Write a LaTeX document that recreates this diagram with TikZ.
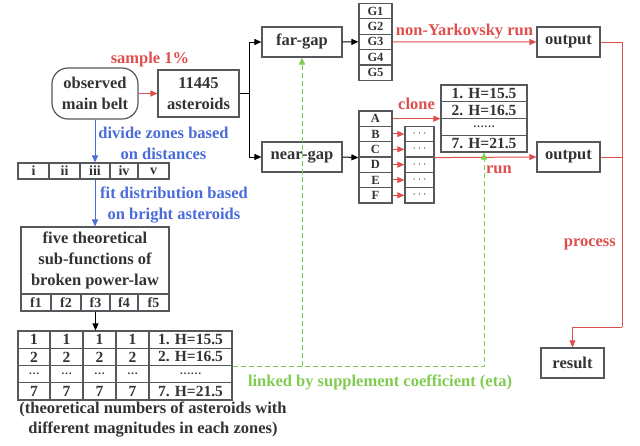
\documentclass[tikz,border=0pt]{standalone}
\usepackage{fontspec}
\setmainfont{Liberation Serif}
\usepackage{tikz}
\usetikzlibrary{arrows.meta}
\usetikzlibrary{calc}
\definecolor{txtgray}{RGB}{51,51,51}
\definecolor{boxgray}{RGB}{85,88,92}
\definecolor{sred}{RGB}{222,80,78}
\definecolor{sblue}{RGB}{74,108,218}
\definecolor{sgreen}{RGB}{128,204,80}
\newcommand{\bigfont}{\fontsize{16.5}{21}\selectfont\bfseries}
\newcommand{\tabfont}{\fontsize{15.5}{16}\selectfont\bfseries}
\newcommand{\midfont}{\fontsize{14}{16}\selectfont\bfseries}
\newcommand{\smallfont}{\fontsize{12.5}{14}\selectfont\bfseries}
\newcommand{\tdots}{{\fontsize{11}{11}\selectfont\ldots}}
\newcommand{\drawarrow}[1]{\draw[#1, line width=1pt, -{Triangle[length=7pt,width=6pt]}]}

\begin{document}
\begin{tikzpicture}[x=1pt, y=-1pt,
    box/.style={draw=boxgray, line width=1.2pt, text=txtgray, font=\bigfont, align=center, inner sep=0pt},
    tcell/.style={box, font=\tabfont},
    cell/.style={box, font=\smallfont, minimum width=33pt, minimum height=15.4pt},
    zcell/.style={box, font=\midfont, minimum height=16pt},
    lbl/.style={font=\bigfont, align=center, inner sep=0pt}]
    \useasboundingbox (0,0) rectangle (640,445);

    % Draw main boxes
    \node[box, rounded corners=16pt, minimum width=86pt, minimum height=51pt] (obs) at (95,93.5) {observed\\main belt};
    \node[box, minimum width=81pt, minimum height=47pt] (ast) at (198.5,93.5) {11445\\asteroids};
    \node[box, minimum width=80pt, minimum height=30pt] (far) at (302,42) {far-gap};
    \node[box, minimum width=80pt, minimum height=30pt] (near) at (302,157) {near-gap};
    \node[box, minimum width=63pt, minimum height=30pt] (out1) at (568.5,42) {output};
    \node[box, minimum width=63pt, minimum height=30pt] (out2) at (568.5,157) {output};
    \node[box, minimum width=63pt, minimum height=30pt] (res) at (572.5,363) {result};

    % Draw group columns
    \foreach \i in {1,...,5}
        \node[cell] (g\i) at (375.5, {3.3+(\i-0.5)*15.4}) {G\i};
    \foreach \lab [count=\i] in {A,B,C,D,E,F}
        \node[cell, minimum height=15.33pt] (r\lab) at (375.5, {111+(\i-0.5)*15.33}) {\lab};
    \foreach \lab [count=\i] in {B,C,D,E,F}
        \node[cell, minimum width=29pt, minimum height=15.33pt] (d\lab) at (419.5, {126.33+(\i-0.5)*15.33}) {$\cdots$};
    \foreach \v [count=\i] in {1. H=15.5, 2. H=16.5, \tdots\tdots, 7. H=21.5}
        \node[tcell, minimum width=86pt, minimum height=16.75pt] (h\i) at (484, {85+(\i-0.5)*16.75}) {\v};

    % Draw zones and sub-functions
    \foreach \lab/\cx/\w [count=\i] in {i/33.5/31, ii/64.5/31, iii/95/30, iv/124/28, v/153.5/31}
        \node[zcell, minimum width=\w pt] (z\i) at (\cx,171) {\lab};
    \node[box, minimum width=148pt, minimum height=67pt] (five) at (95,260.5) {five theoretical\\sub-functions of\\broken power-law};
    \foreach \cx/\w [count=\i] in {36/30, 66/30, 95.5/29, 124/28, 153.5/31}
        \node[zcell, minimum width=\w pt, minimum height=17pt] (f\i) at (\cx,302.5) {f\i};

    % Draw table
    \foreach \v [count=\i] in {1,2,\tdots,7} {
        \foreach \cx/\w [count=\j] in {34/32, 66.5/33, 99.5/33, 132.5/33}
            \node[tcell, minimum width=\w pt, minimum height=17.25pt] (t\i\j) at (\cx, {331+(\i-0.5)*17.25}) {\v};
    }
    \foreach \v [count=\i] in {1. H=15.5, 2. H=16.5, \tdots\tdots, 7. H=21.5}
        \node[tcell, minimum width=83pt, minimum height=17.25pt] (t\i5) at (190.5, {331+(\i-0.5)*17.25}) {\v};
    \node[lbl, text=txtgray, font=\fontsize{16.5}{20}\selectfont\bfseries] (cap) at (153,420) {(theoretical numbers of asteroids with\\different magnitudes in each zones)};

    % Draw flow
    \drawarrow{sred} (obs.east) -- (ast.west);
    \node[lbl, text=sred, anchor=base] (samp) at (150,63) {sample 1\%};
    \coordinate (split) at (249,93.5);
    \draw[black, line width=1pt] (ast.east) -- (split);
    \drawarrow{black} (split) |- (far.west);
    \drawarrow{black} (split) |- (near.west);
    \drawarrow{black} (far.east) -- (g3.west);
    \drawarrow{black} (near.east) -- (rC.south west);
    \drawarrow{sred} (g3.east) -- (out1.west) node[lbl, text=sred, midway, anchor=base, yshift=6pt] {non-Yarkovsky run};
    \drawarrow{sred} (rA.east) -- (rA.east -| h2.west) node[lbl, text=sred, midway, anchor=base, yshift=9pt] {clone};
    \foreach \lab in {B,C,D,E,F}
        \drawarrow{sred} (r\lab.east) -- (d\lab.west);
    \drawarrow{sred} (dC.south east) -- (out2.west);
    \node[lbl, text=sred, anchor=base] (run) at (499,173) {run};

    % Draw process
    \coordinate (cor) at (622,327);
    \draw[sred, line width=1pt] (out1.east) -| (cor);
    \draw[sred, line width=1pt] (out2.east) -- (out2.east -| cor);
    \drawarrow{sred} (cor) -| (res.north);
    \node[lbl, text=sred, anchor=base east] (proc) at (616,246) {process};

    % Draw zone steps
    \drawarrow{sblue} (obs.south) -- (obs.south |- z3.north);
    \node[lbl, text=sblue] (divl) at (163.5,143.5) {divide zones based\\on distances};
    \drawarrow{sblue} (z3.south) -- (five.north);
    \node[lbl, text=sblue] (fitl) at (174,205.5) {fit distribution based\\on bright asteroids};
    \drawarrow{black} (f3.south) -- (f3.south |- t13.north);

    % Draw link
    \drawarrow{sgreen, dash pattern=on 5pt off 3pt} (t25.south east) -| (h4.south);
    \drawarrow{sgreen, dash pattern=on 5pt off 3pt} (t25.south east -| far.south) -- (far.south);
    \node[lbl, text=sgreen, anchor=base] (link) at (380,386) {linked by supplement coefficient (eta)};
\end{tikzpicture}
\end{document}
